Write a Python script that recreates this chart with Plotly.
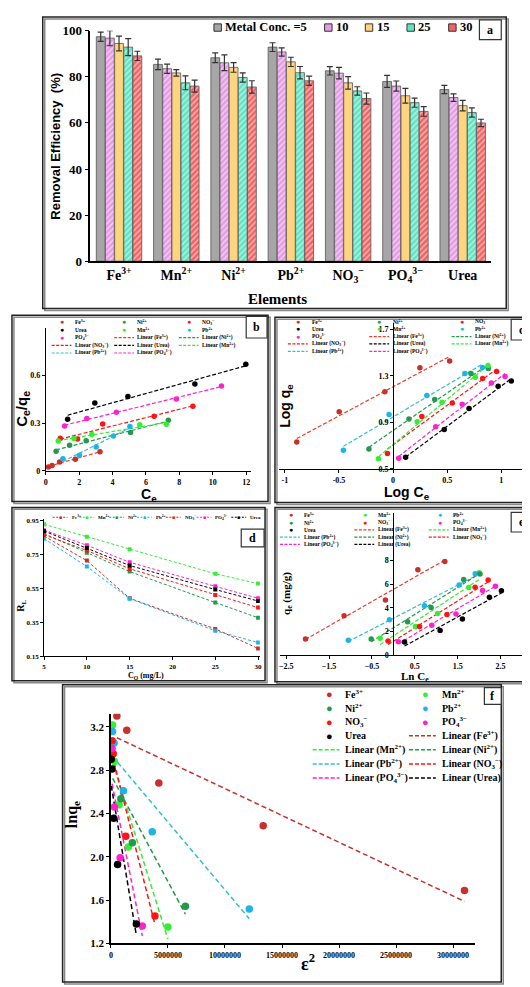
import numpy as np
import plotly.graph_objects as go

W, H = 530, 987
SERIF = "Liberation Serif"
SANS = "Liberation Sans"


def X(px):
    return px / W


def Y(py):
    return 1 - py / H


# ---------------- names ----------------
n_fe = "Fe<sup>3+</sup>"
n_mn = "Mn<sup>2+</sup>"
n_ni = "Ni<sup>2+</sup>"
n_pb = "Pb<sup>2+</sup>"
n_no3 = "NO<sub>3</sub><sup>−</sup>"
n_po4 = "PO<sub>4</sub><sup>3−</sup>"
n_urea = "Urea"

# ---------------- panel a data ----------------
elements = [n_fe, n_mn, n_ni, n_pb, n_no3, n_po4, n_urea]
conc_labels = ["Metal Conc. =5", "10", "15", "25", "30"]
eff_5 = [97.4, 85.4, 88.3, 92.9, 82.6, 78.0, 74.5]
eff_10 = [96.8, 83.5, 86.1, 90.8, 81.6, 76.0, 71.0]
eff_15 = [94.5, 81.7, 84.1, 86.5, 77.4, 71.8, 67.5]
eff_25 = [92.9, 77.4, 79.7, 81.8, 73.9, 68.8, 64.5]
eff_30 = [89.1, 76.0, 75.6, 78.3, 70.6, 65.0, 60.0]
err_5 = [2.0, 2.3, 2.1, 1.9, 1.8, 2.6, 1.8]
err_10 = [3.3, 2.0, 3.4, 1.8, 2.5, 2.2, 1.6]
err_15 = [3.2, 1.4, 2.1, 2.0, 2.7, 3.2, 2.3]
err_25 = [3.7, 3.0, 2.0, 2.7, 1.8, 2.0, 2.0]
err_30 = [2.0, 2.6, 2.7, 2.0, 2.4, 2.1, 1.6]

# ---------------- panel b data (Ce vs Ce/qe) ----------------
b_fe_x = [0.16, 0.38, 0.83, 1.77, 3.25]
b_fe_y = [0.025, 0.035, 0.056, 0.074, 0.12]
b_no3_x = [0.87, 1.9, 3.41, 6.49, 8.81]
b_no3_y = [0.206, 0.2, 0.295, 0.344, 0.406]
b_mn_x = [0.75, 1.69, 2.76, 5.63, 7.22]
b_mn_y = [0.188, 0.204, 0.229, 0.291, 0.293]
b_ni_x = [0.62, 1.43, 2.42, 5.08, 7.34]
b_ni_y = [0.124, 0.161, 0.19, 0.241, 0.318]
b_pb_x = [1.03, 2.02, 3.02, 4.05, 5.04]
b_pb_y = [0.076, 0.099, 0.15, 0.219, 0.28]
b_po4_x = [1.13, 2.46, 4.23, 7.82, 10.52]
b_po4_y = [0.282, 0.33, 0.369, 0.452, 0.534]
b_urea_x = [1.31, 2.94, 4.92, 8.93, 11.98]
b_urea_y = [0.324, 0.427, 0.468, 0.546, 0.67]

# ---------------- panel c data (log Ce vs log qe) ----------------
c_fe_x = [-0.89, -0.498, -0.076, 0.248, 0.523]
c_fe_y = [0.731, 0.99, 1.162, 1.368, 1.427]
c_no3_x = [-0.052, 0.266, 0.547, 0.828, 0.957]
c_no3_y = [0.632, 0.951, 1.066, 1.277, 1.337]
c_pb_x = [-0.459, -0.037, 0.312, 0.664, 0.826]
c_pb_y = [0.66, 0.968, 1.131, 1.32, 1.37]
c_ni_x = [-0.223, 0.147, 0.385, 0.72, 0.88]
c_ni_y = [0.672, 0.928, 1.097, 1.32, 1.362]
c_mn_x = [-0.135, 0.223, 0.453, 0.761, 0.878]
c_mn_y = [0.587, 0.906, 1.072, 1.286, 1.387]
c_po4_x = [0.052, 0.394, 0.639, 0.908, 1.035]
c_po4_y = [0.593, 0.863, 1.055, 1.238, 1.294]
c_urea_x = [0.116, 0.473, 0.702, 0.971, 1.093]
c_urea_y = [0.601, 0.838, 1.018, 1.21, 1.255]

# ---------------- panel d data (RL vs C0) ----------------
d_c0 = [5, 10, 15, 25, 30]
d_xticks = [5, 10, 15, 20, 25, 30]
d_fe = [0.86, 0.715, 0.492, 0.311, 0.195]
d_mn = [0.93, 0.857, 0.783, 0.637, 0.579]
d_ni = [0.875, 0.762, 0.65, 0.467, 0.377]
d_pb = [0.845, 0.68, 0.49, 0.30, 0.23]
d_no3 = [0.868, 0.775, 0.667, 0.511, 0.437]
d_po4 = [0.895, 0.806, 0.705, 0.564, 0.492]
d_urea = [0.89, 0.79, 0.686, 0.544, 0.476]

# ---------------- panel e data (ln Ce vs qe) ----------------
e_fe_x = [-2.05, -1.15, -0.185, 0.571, 1.2]
e_fe_y = [1.36, 3.33, 4.67, 7.22, 7.92]
e_pb_x = [-1.05, -0.093, 0.725, 1.535, 1.91]
e_pb_y = [1.25, 3.0, 4.17, 5.94, 6.89]
e_ni_x = [-0.517, 0.332, 0.88, 1.64, 2.02]
e_ni_y = [1.36, 2.83, 4.03, 6.39, 6.86]
e_mn_x = [-0.31, 0.517, 1.034, 1.76, 2.0]
e_mn_y = [1.42, 2.42, 3.53, 5.72, 6.97]
e_no3_x = [-0.123, 0.61, 1.25, 1.906, 2.21]
e_no3_y = [1.19, 2.42, 3.44, 5.75, 6.36]
e_po4_x = [0.116, 0.895, 1.46, 2.08, 2.38]
e_po4_y = [1.14, 2.53, 3.47, 5.47, 5.83]
e_urea_x = [0.26, 1.09, 1.61, 2.24, 2.52]
e_urea_y = [1.11, 2.08, 3.06, 4.89, 5.44]

# ---------------- panel f data (eps^2 vs ln qe) ----------------
f_fe_x = [5.2e5, 1.39e6, 4.2e6, 1.335e7, 3.1e7]
f_fe_y = [3.30, 3.167, 2.68, 2.285, 1.688]
f_mn_x = [1.4e5, 3.0e5, 7.2e5, 1.53e6, 4.99e6]
f_mn_y = [3.215, 2.88, 2.48, 2.09, 1.352]
f_ni_x = [1.5e5, 8.7e5, 1.88e6, 6.53e6]
f_ni_y = [2.95, 2.536, 2.13, 1.543]
f_pb_x = [1.4e5, 2.8e5, 1.1e6, 3.62e6, 1.213e7]
f_pb_y = [3.155, 3.05, 2.61, 2.23, 1.518]
f_no3_x = [1.0e5, 2.0e5, 1.3e6, 3.86e6]
f_no3_y = [3.07, 2.95, 2.19, 1.452]
f_po4_x = [1.0e5, 3.0e5, 8.1e5, 2.75e6]
f_po4_y = [3.0, 2.46, 1.99, 1.36]
f_urea_x = [3.0e4, 1.0e5, 2.4e5, 5.8e5, 2.23e6]
f_urea_y = [2.9, 2.81, 2.355, 1.927, 1.38]
f_xticks = [0, 5000000, 10000000, 15000000, 20000000, 25000000, 30000000]

# ---------------- styles ----------------
C_FE = "#c9302c"
C_MN = "#33ee33"
C_NI = "#22994c"
C_PB = "#1db4e8"
C_NO3 = "#ff1414"
C_PO4 = "#ff22cc"
C_UREA = "#000000"
L_FE = "#e8402a"
L_PB = "#33bfcc"

bar_colors = ["#a6a6a6", "#e59be6", "#ffd47f", "#5ee4c4", "#f26464"]
bar_pattern = ["", "/", "", "/", "/"]

fig = go.Figure()
annotations = []
shapes = []


def fit(x, y):
    m, c = np.polyfit(np.array(x, float), np.array(y, float), 1)
    xs = [min(x), max(x)]
    return xs, [m * v + c for v in xs]


def pts(x, y, color, ax, size):
    fig.add_trace(go.Scatter(x=x, y=y, mode="markers", showlegend=False,
                             marker=dict(color=color, size=size, line=dict(width=0)),
                             xaxis="x" + ax, yaxis="y" + ax))


def fitline(x, y, color, ax, width=1.2, dash="4px,2px"):
    xs, ys = fit(x, y)
    fig.add_trace(go.Scatter(x=xs, y=ys, mode="lines", showlegend=False,
                             line=dict(color=color, width=width, dash=dash),
                             xaxis="x" + ax, yaxis="y" + ax))


def text(x, y, s, size, family=SERIF, angle=0, xanchor="center", color="black"):
    annotations.append(dict(x=X(x), y=Y(y), xref="paper", yref="paper", text=s,
                            showarrow=False, textangle=angle, xanchor=xanchor,
                            yanchor="middle",
                            font=dict(family=family, size=size, color=color, weight="bold")))


def box(x0, y0, x1, y1, w=1.5):
    shapes.append(dict(type="rect", xref="paper", yref="paper", x0=X(x0 + 2), x1=X(x1 + 2),
                       y0=Y(y0 + 2), y1=Y(y1 + 2), line=dict(color="#888888", width=w)))
    shapes.append(dict(type="rect", xref="paper", yref="paper", x0=X(x0), x1=X(x1),
                       y0=Y(y0), y1=Y(y1), line=dict(color="#222222", width=w),
                       fillcolor="rgba(0,0,0,0)"))


def label_box(x0, y0, x1, y1, s):
    shapes.append(dict(type="rect", xref="paper", yref="paper", x0=X(x0), x1=X(x1),
                       y0=Y(y0), y1=Y(y1), line=dict(color="#333333", width=1.2),
                       fillcolor="white"))
    text((x0 + x1) / 2, (y0 + y1) / 2, s, 12)


def legend_grid(entries, x0s, y0, dy, ncols, fs, dot_dx, txt_dx, line_len, dot_fs,
                lw=1.2, dash="3px,1.5px"):
    for i, (lab, color, kind) in enumerate(entries):
        r, c = divmod(i, ncols)
        x = x0s[c]
        y = y0 + r * dy
        if kind in ("l", "lm"):
            shapes.append(dict(type="line", xref="paper", yref="paper", x0=X(x),
                               x1=X(x + line_len), y0=Y(y), y1=Y(y),
                               line=dict(color=color, width=lw, dash=dash)))
        if kind == "m":
            annotations.append(dict(x=X(x + dot_dx), y=Y(y), xref="paper", yref="paper",
                                    text="●", showarrow=False, xanchor="center",
                                    yanchor="middle", font=dict(color=color, size=dot_fs)))
        if kind == "lm":
            annotations.append(dict(x=X(x + line_len / 2), y=Y(y), xref="paper", yref="paper",
                                    text="■", showarrow=False, xanchor="center",
                                    yanchor="middle", font=dict(color=color, size=dot_fs)))
        annotations.append(dict(x=X(x + txt_dx), y=Y(y), xref="paper", yref="paper",
                                text=lab, showarrow=False, xanchor="left", yanchor="middle",
                                font=dict(family=SERIF, size=fs, color="black", weight="bold")))


def lin(n):
    return "Linear (" + n + ")"


# ---------------- panel a ----------------
effs = [eff_5, eff_10, eff_15, eff_25, eff_30]
errs = [err_5, err_10, err_15, err_25, err_30]
for i in range(5):
    fig.add_trace(go.Bar(
        x=elements, y=effs[i], name=conc_labels[i], showlegend=False,
        marker=dict(color=bar_colors[i], line=dict(color="#555555", width=0.8),
                    pattern=dict(shape=bar_pattern[i], fgcolor="white", fgopacity=0.55,
                                 size=4, solidity=0.35)),
        error_y=dict(type="data", array=errs[i], color="#333333", thickness=1.2, width=3),
        xaxis="x", yaxis="y"))

# legend a
leg_a_x = [205.5, 317, 358, 400, 442]
for i in range(5):
    x = leg_a_x[i]
    shapes.append(dict(type="rect", xref="paper", yref="paper", x0=X(x), x1=X(x + 7.5),
                       y0=Y(16.5), y1=Y(9), fillcolor=bar_colors[i],
                       line=dict(color="#333333", width=1)))
    text(x + 9.5, 12.5, conc_labels[i], 12.5, xanchor="left")

# ---------------- panel b ----------------
b_series = [(b_fe_x, b_fe_y, C_FE, L_FE), (b_ni_x, b_ni_y, C_NI, C_NI),
            (b_no3_x, b_no3_y, C_NO3, C_NO3), (b_urea_x, b_urea_y, C_UREA, C_UREA),
            (b_mn_x, b_mn_y, C_MN, C_MN), (b_pb_x, b_pb_y, C_PB, L_PB),
            (b_po4_x, b_po4_y, C_PO4, C_PO4)]
for x, y, c, lc in b_series:
    fitline(x, y, lc, "2")
for x, y, c, lc in b_series:
    pts(x, y, c, "2", 5.5)

# ---------------- panel c ----------------
c_series = [(c_fe_x, c_fe_y, C_FE, L_FE), (c_ni_x, c_ni_y, C_NI, C_NI),
            (c_no3_x, c_no3_y, C_NO3, C_NO3), (c_urea_x, c_urea_y, C_UREA, C_UREA),
            (c_mn_x, c_mn_y, C_MN, C_MN), (c_pb_x, c_pb_y, C_PB, L_PB),
            (c_po4_x, c_po4_y, C_PO4, C_PO4)]
for x, y, c, lc in c_series:
    fitline(x, y, lc, "3")
for x, y, c, lc in c_series:
    pts(x, y, c, "3", 5.5)

# ---------------- panel d ----------------
d_series = [(d_fe, C_FE), (d_mn, C_MN), (d_ni, C_NI), (d_pb, C_PB),
            (d_no3, C_NO3), (d_po4, C_PO4), (d_urea, C_UREA)]
for y, c in d_series:
    fig.add_trace(go.Scatter(x=d_c0, y=y, mode="lines+markers", showlegend=False,
                             line=dict(color=c, width=1, dash="3px,2px"),
                             marker=dict(color=c, size=4, symbol="square"),
                             xaxis="x4", yaxis="y4"))

# ---------------- panel e ----------------
e_series = [(e_fe_x, e_fe_y, C_FE, L_FE), (e_mn_x, e_mn_y, C_MN, C_MN),
            (e_pb_x, e_pb_y, C_PB, L_PB), (e_ni_x, e_ni_y, C_NI, C_NI),
            (e_no3_x, e_no3_y, C_NO3, C_NO3), (e_po4_x, e_po4_y, C_PO4, C_PO4),
            (e_urea_x, e_urea_y, C_UREA, C_UREA)]
for x, y, c, lc in e_series:
    fitline(x, y, lc, "5")
for x, y, c, lc in e_series:
    pts(x, y, c, "5", 5.5)

# ---------------- panel f ----------------
f_series = [(f_fe_x, f_fe_y, C_FE, C_FE), (f_mn_x, f_mn_y, C_MN, C_MN),
            (f_ni_x, f_ni_y, C_NI, C_NI), (f_pb_x, f_pb_y, C_PB, L_PB),
            (f_no3_x, f_no3_y, C_NO3, C_NO3), (f_po4_x, f_po4_y, C_PO4, C_PO4),
            (f_urea_x, f_urea_y, C_UREA, C_UREA)]
for x, y, c, lc in f_series:
    fitline(x, y, lc, "6", width=1.5, dash="5px,3px")
for x, y, c, lc in f_series:
    pts(x, y, c, "6", 7.5)

# ---------------- legends b, c, e, f, d ----------------
leg_bc = [(n_fe, C_FE, "m"), (n_ni, C_NI, "m"), (n_no3, C_NO3, "m"),
          (n_urea, C_UREA, "m"), (n_mn, C_MN, "m"), (n_pb, C_PB, "m"),
          (n_po4, C_PO4, "m"), (lin(n_fe), L_FE, "l"), (lin(n_ni), C_NI, "l"),
          (lin(n_no3), C_NO3, "l"), (lin(n_urea), C_UREA, "l"), (lin(n_mn), C_MN, "l"),
          (lin(n_pb), L_PB, "l"), (lin(n_po4), C_PO4, "l")]
legend_grid(leg_bc, [42, 105, 170], 312, 7.8, 3, 5.5, 10, 21, 20, 7)
legend_grid(leg_bc, [280, 362, 445], 311.5, 7.5, 3, 5.5, 10, 22, 20, 7)

leg_e = [(n_fe, C_FE, "m"), (n_mn, C_MN, "m"), (n_pb, C_PB, "m"),
         (n_ni, C_NI, "m"), (n_no3, C_NO3, "m"), (n_po4, C_PO4, "m"),
         (n_urea, C_UREA, "m"), (lin(n_fe), L_FE, "l"), (lin(n_mn), C_MN, "l"),
         (lin(n_pb), L_PB, "l"), (lin(n_ni), C_NI, "l"), (lin(n_no3), C_NO3, "l"),
         (lin(n_po4), C_PO4, "l"), (lin(n_urea), C_UREA, "l")]
legend_grid(leg_e, [272, 347, 422], 508, 7.4, 3, 5.5, 11, 22, 20, 7)

leg_f = [(n_fe, C_FE, "m"), (n_mn, C_MN, "m"), (n_ni, C_NI, "m"), (n_pb, C_PB, "m"),
         (n_no3, C_NO3, "m"), (n_po4, C_PO4, "m"), (n_urea, C_UREA, "m"),
         (lin(n_fe), C_FE, "l"), (lin(n_mn), C_MN, "l"), (lin(n_ni), C_NI, "l"),
         (lin(n_pb), L_PB, "l"), (lin(n_no3), C_NO3, "l"), (lin(n_po4), C_PO4, "l"),
         (lin(n_urea), C_UREA, "l")]
legend_grid(leg_f, [305, 402], 689, 14.3, 2, 10, 17, 31, 27, 11, lw=1.5, dash="4px,2px")

leg_d = [(n_fe, C_FE, "lm"), (n_mn, C_MN, "lm"), (n_ni, C_NI, "lm"), (n_pb, C_PB, "lm"),
         (n_no3, C_NO3, "lm"), (n_po4, C_PO4, "lm"), (n_urea, C_UREA, "lm")]
legend_grid(leg_d, [43, 70, 100, 128, 157, 188, 223], 510, 0, 7, 5, 8, 17, 15, 5,
            lw=1, dash="2px,1.5px")

# ---------------- boxes & panel labels ----------------
box(33, 2, 500, 298)
box(2, 305, 260, 494)
box(267, 307, 528, 495)
box(2, 500, 257, 676)
box(267, 500, 528, 677)
box(53, 680, 495, 982)
label_box(473, 5, 495, 25, "a")
label_box(238, 306, 259, 328, "b")
label_box(505, 309, 527, 330, "c")
label_box(233, 522, 256, 540, "d")
label_box(505, 505, 527, 525, "e")
label_box(478, 683, 495, 700, "f")

# ---------------- axis titles ----------------
text(270, 288, "Elements", 15)
text(46, 133, "Removal Efficiency  (%)", 13, family=SANS, angle=-90)
text(140, 487, "C<sub>e</sub>", 14, family=SANS)
text(13, 400, "C<sub>e</sub>/q<sub>e</sub>", 15, family=SANS, angle=-90)
text(400, 485, "Log C<sub>e</sub>", 14, family=SANS)
text(278, 397, "Log q<sub>e</sub>", 14, family=SANS, angle=-90)
text(137, 671, "C<sub>O</sub> (mg/L)", 8)
text(12, 600, "R<sub>L</sub>", 10, angle=-90)
text(408, 672.5, "Ln C<sub>e</sub>", 11)
text(279, 587, "q<sub>e</sub> (mg/g)", 11, angle=-90)
text(300, 962, "ε<sup>2</sup>", 18)
text(63, 812, "lnq<sub>e</sub>", 16, angle=-90)

# ---------------- axes ----------------
def tf(size):
    return dict(family=SERIF, size=size, color="black", weight="bold")


common = dict(showline=True, linecolor="black", showgrid=False, zeroline=False,
              ticks="outside", tickcolor="black", mirror=False)

layout_axes = dict(
    xaxis=dict(common, domain=[X(81), X(485)], anchor="y", linewidth=1.5, ticks="",
               tickfont=tf(14)),
    yaxis=dict(common, domain=[Y(250), Y(16)], anchor="x", range=[0, 100], dtick=20,
               linewidth=1.5, ticklen=4, tickfont=tf(13)),
    xaxis2=dict(common, domain=[X(36), X(243)], anchor="y2", range=[0, 12.3],
                tickvals=[0, 2, 4, 6, 8, 10, 12], ticklen=3, linewidth=1, tickfont=tf(8)),
    yaxis2=dict(common, domain=[Y(463), Y(317.5)], anchor="x2", range=[0, 0.9],
                tickvals=[0, 0.3, 0.6], ticktext=["0", "0.3", "0.6"], ticklen=3,
                linewidth=1, tickfont=tf(8)),
    xaxis3=dict(common, domain=[X(271.5), X(516.8)], anchor="y3", range=[-1.05, 1.2],
                tickvals=[-1, -0.5, 0, 0.5, 1], ticktext=["-1", "-0.5", "0", "0.5", "1"],
                ticklen=3, linewidth=1, tickfont=tf(8)),
    yaxis3=dict(common, domain=[Y(461), Y(313)], anchor="free", position=X(386),
                range=[0.5, 1.75], tickvals=[0.5, 0.9, 1.3, 1.7], ticklen=3, linewidth=1,
                tickfont=tf(8)),
    xaxis4=dict(common, domain=[X(34.3), X(251.7)], anchor="y4", range=[5, 30.2],
                tickvals=d_xticks, ticklen=3, linewidth=1, tickfont=tf(7)),
    yaxis4=dict(common, domain=[Y(651), Y(512)], anchor="x4", range=[0.15, 0.96],
                tickvals=[0.15, 0.35, 0.55, 0.75, 0.95], ticklen=3, linewidth=1,
                tickfont=tf(7)),
    xaxis5=dict(common, domain=[X(271.8), X(515.9)], anchor="y5", range=[-2.65, 3.0],
                tickvals=[-2.5, -1.5, -0.5, 0.5, 1.5, 2.5], ticklen=3, linewidth=1,
                tickfont=tf(8)),
    yaxis5=dict(common, domain=[Y(650), Y(506)], anchor="free", position=X(386.3),
                range=[0, 12], tickvals=[0, 2, 4, 6, 8], ticklen=3, linewidth=1,
                tickfont=tf(8)),
    xaxis6=dict(common, domain=[X(101.7), X(468.3)], anchor="y6", range=[0, 3.19e7],
                tickvals=f_xticks, ticktext=[str(v) for v in f_xticks], ticklen=3,
                linewidth=1.5, tickfont=tf(8)),
    yaxis6=dict(common, domain=[Y(942.7), Y(709.5)], anchor="x6", range=[1.2, 3.32],
                tickvals=[1.2, 1.6, 2.0, 2.4, 2.8, 3.2], tickformat=".1f", ticklen=3,
                linewidth=1.5, tickfont=tf(11)),
)

fig.update_layout(
    width=W, height=H, autosize=False,
    margin=dict(l=0, r=0, t=0, b=0),
    paper_bgcolor="white", plot_bgcolor="white",
    font=dict(family=SERIF, color="black"),
    barmode="group", bargap=0.2, bargroupgap=0.04,
    showlegend=False,
    annotations=annotations, shapes=shapes,
    **layout_axes,
)

fig.write_html("out.html")
